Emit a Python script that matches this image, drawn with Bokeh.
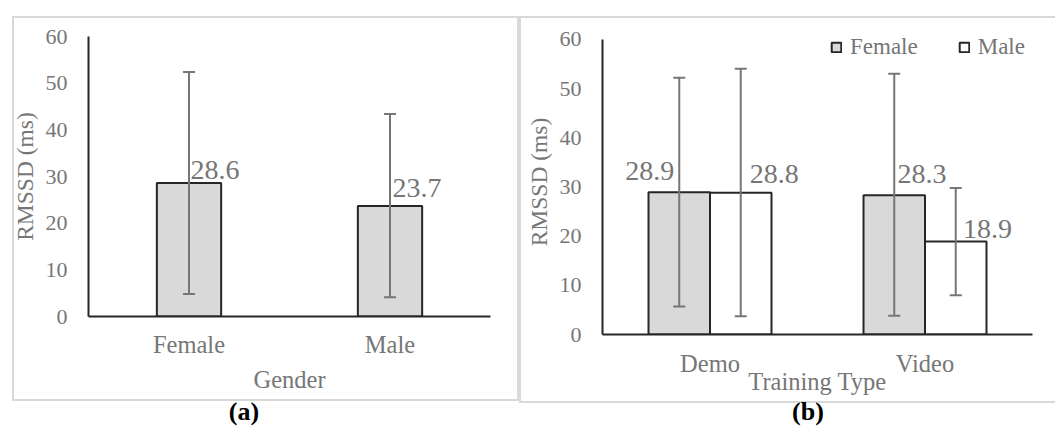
from bokeh.plotting import figure
from bokeh.models import (ColumnDataSource, Whisker, TeeHead, LabelSet,
                          Legend, LegendItem, FixedTicker, Div)
from bokeh.transform import dodge
from bokeh.core.properties import value
from bokeh.embed import file_html
from bokeh.resources import INLINE

# ---------------- data ----------------
# panel (a): RMSSD by gender
gender_cats = ["Female", "Male"]
gender_means = [28.6, 23.7]
gender_upper = [52.4, 43.4]
gender_lower = [4.8, 4.1]
gender_labels = ["28.6", "23.7"]

# panel (b): RMSSD by training type and gender
training_cats = ["Demo", "Video"]
female_means = [28.9, 28.3]
female_upper = [52.2, 53.0]
female_lower = [5.7, 3.8]
male_means = [28.8, 18.9]
male_upper = [54.0, 29.8]
male_lower = [3.7, 8.0]
female_labels = ["28.9", "28.3"]
male_labels = ["28.8", "18.9"]

y_ticks = [0, 10, 20, 30, 40, 50, 60]

# ---------------- style ----------------
FONT = "Liberation Serif"
GREY = "#767676"
DARK = "#262626"
FILL = "#d9d9d9"
BORDER = "#d9d9d9"

# label pixel offsets (style, not data)
a_xoff = [26, 27]
a_yoff = [4, 9]
bf_xoff = [-29.5, 27.7]
bf_yoff = [12, 12]
bm_xoff = [33.4, 31.8]
bm_yoff = [9.7, 3.1]


def style_axes(p, x_std, x_title_std):
    p.grid.visible = False
    p.outline_line_color = None
    p.background_fill_color = "white"
    p.border_fill_color = "white"
    for ax in (p.xaxis[0], p.yaxis[0]):
        ax.axis_line_color = DARK
        ax.axis_line_width = 2
        ax.major_tick_line_color = None
        ax.minor_tick_line_color = None
        ax.major_tick_out = 0
        ax.major_tick_in = 0
        ax.major_label_text_font = FONT
        ax.major_label_text_color = GREY
        ax.axis_label_text_font = FONT
        ax.axis_label_text_font_style = "normal"
        ax.axis_label_text_color = GREY
    p.yaxis.ticker = FixedTicker(ticks=y_ticks)
    p.yaxis.bounds = (0, 60)
    p.yaxis.major_label_text_font_size = "22px"
    p.yaxis.major_label_standoff = 21
    p.yaxis.axis_label = "RMSSD (ms)"
    p.yaxis.axis_label_text_font_size = "23.5px"
    p.yaxis.axis_label_standoff = 5
    p.xaxis.major_label_text_font_size = "24.5px"
    p.xaxis.axis_label_text_font_size = "24.5px"
    p.xaxis.major_label_standoff = x_std
    p.xaxis.axis_label_standoff = x_title_std


def whisker(src, base, up, lo):
    return Whisker(source=src, base=base, upper=up, lower=lo,
                   line_color=GREY, line_width=2, level="annotation",
                   upper_head=TeeHead(size=12, line_color=GREY, line_width=2),
                   lower_head=TeeHead(size=12, line_color=GREY, line_width=2))


def abs_pos(left, top):
    return {"position": "absolute", "left": f"{left}px", "top": f"{top}px"}


# ---------------- panel (a) ----------------
src_a = ColumnDataSource(dict(cat=gender_cats, mean=gender_means,
                              upper=gender_upper, lower=gender_lower,
                              label=gender_labels, xoff=a_xoff, yoff=a_yoff))

pa = figure(x_range=gender_cats, y_range=(0, 60), width=514, height=429,
            min_border_left=88, min_border_right=24, min_border_top=36,
            min_border_bottom=113, output_backend="svg", toolbar_location=None,
            styles=abs_pos(0, 0))
style_axes(pa, 14, 5)
pa.xaxis.axis_label = "Gender"

pa.vbar(x="cat", top="mean", width=0.32, source=src_a,
        fill_color=FILL, line_color=DARK, line_width=2)
pa.add_layout(whisker(src_a, "cat", "upper", "lower"))
pa.add_layout(LabelSet(x="cat", y="mean", text="label", source=src_a,
                       x_offset="xoff", y_offset="yoff", text_align="center",
                       text_baseline="alphabetic", text_font=value(FONT),
                       text_font_size="28px", text_color=GREY))

# ---------------- panel (b) ----------------
src_b = ColumnDataSource(dict(cat=training_cats,
                              female=female_means, f_up=female_upper, f_lo=female_lower,
                              male=male_means, m_up=male_upper, m_lo=male_lower,
                              f_lab=female_labels, m_lab=male_labels,
                              f_xoff=bf_xoff, f_yoff=bf_yoff,
                              m_xoff=bm_xoff, m_yoff=bm_yoff))

# y range reaches a little past 60 so the legend sits inside the frame;
# the axis line itself is bounded to 0..60
pb = figure(x_range=training_cats, y_range=(0, 62), width=541, height=429,
            min_border_left=88, min_border_right=23, min_border_top=29,
            min_border_bottom=95, output_backend="svg", toolbar_location=None,
            styles=abs_pos(514, 0))
style_axes(pb, 15, -12)
pb.xaxis.axis_label = "Training Type"

xf = dodge("cat", -0.143, range=pb.x_range)
xm = dodge("cat", 0.143, range=pb.x_range)
rF = pb.vbar(x=xf, top="female", width=0.286, source=src_b,
             fill_color=FILL, line_color=DARK, line_width=2)
rM = pb.vbar(x=xm, top="male", width=0.286, source=src_b,
             fill_color="white", line_color=DARK, line_width=2)
pb.add_layout(whisker(src_b, xf, "f_up", "f_lo"))
pb.add_layout(whisker(src_b, xm, "m_up", "m_lo"))
pb.add_layout(LabelSet(x=xf, y="female", text="f_lab", source=src_b,
                       x_offset="f_xoff", y_offset="f_yoff", text_align="center",
                       text_baseline="alphabetic", text_font=value(FONT),
                       text_font_size="28px", text_color=GREY))
pb.add_layout(LabelSet(x=xm, y="male", text="m_lab", source=src_b,
                       x_offset="m_xoff", y_offset="m_yoff", text_align="center",
                       text_baseline="alphabetic", text_font=value(FONT),
                       text_font_size="28px", text_color=GREY))

legend = Legend(items=[LegendItem(label="Female", renderers=[rF]),
                       LegendItem(label="Male", renderers=[rM])],
                orientation="horizontal", location=(228, 274),
                glyph_width=12, glyph_height=12, label_standoff=8, spacing=40,
                padding=0, margin=0, border_line_color=None,
                background_fill_alpha=0, label_text_font=FONT,
                label_text_font_size="23px", label_text_color=GREY)
pb.add_layout(legend)

# ---------------- panel frames and captions ----------------
box_a = Div(text="", width=507, height=385,
            styles={**abs_pos(7, 11), "box-sizing": "border-box",
                    "width": "507px", "height": "385px",
                    "border": f"2px solid {BORDER}"})
box_b = Div(text="", width=541, height=387,
            styles={**abs_pos(514, 11), "box-sizing": "border-box",
                    "width": "541px", "height": "387px",
                    "border": f"2px solid {BORDER}", "border-right": "none"})

cap_style = (f"font-family:'{FONT}';font-size:26px;font-weight:bold;"
             "color:black;line-height:30px;")
cap_a = Div(text=f"<div style=\"{cap_style}text-align:center;width:60px\">(a)</div>",
            width=60, height=30,
            styles={**abs_pos(209, 392), "text-align": "center"})
cap_b = Div(text=f"<div style=\"{cap_style}text-align:center;width:60px\">(b)</div>",
            width=60, height=30,
            styles={**abs_pos(773, 392), "text-align": "center"})

open("out.html", "w").write(file_html([pa, pb, box_a, box_b, cap_a, cap_b], INLINE))
